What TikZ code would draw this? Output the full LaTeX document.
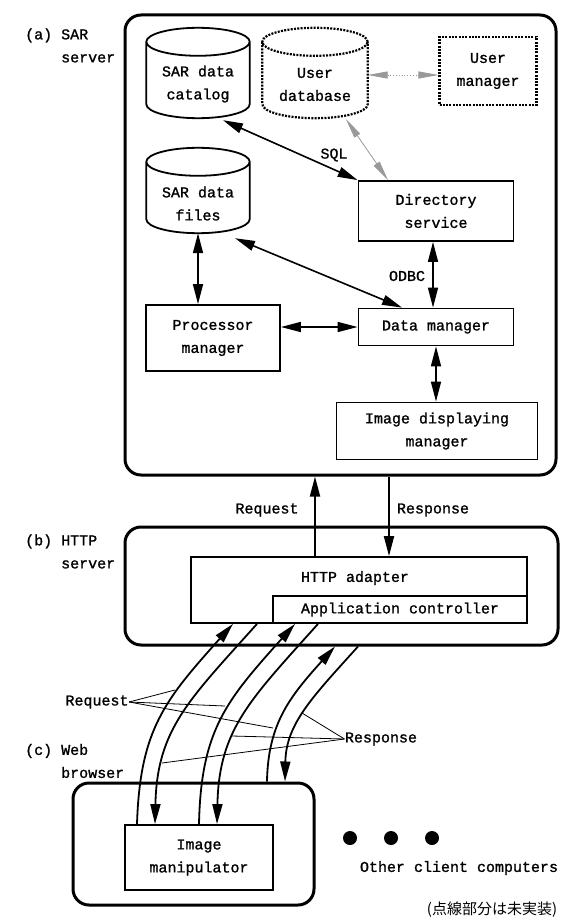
\documentclass[tikz,border=0pt]{standalone}
\usepackage{fontspec}
\setmainfont{Liberation Mono}[FakeBold=1.2]
\newfontfamily\cjk{Noto Sans CJK JP}
\usetikzlibrary{arrows.meta,positioning,shapes.geometric,calc}
\tikzset{
  srvbox/.style={draw, line width=3pt, rounded corners=16pt},
  modbox/.style={draw, line width=1.8pt, align=center, inner sep=0pt},
  drum/.style={align=center, inner sep=0pt, minimum width=103pt, minimum height=90pt},
  todo/.style={line width=2.2pt, dash pattern=on 2pt off 1.3pt},
  dblarr/.style={{Triangle[length=20pt,width=10pt]}-{Triangle[length=20pt,width=10pt]}, line width=1.6pt},
  arr/.style={-{Triangle[length=20pt,width=10pt]}, line width=1.8pt},
  grayarr/.style={{Triangle[length=20pt,width=7pt]}-{Triangle[length=20pt,width=7pt]}, draw=gray!80, line width=0.8pt},
  ptr/.style={line width=0.8pt},
  caption/.style={align=left, inner sep=0pt, anchor=west},
  dot/.style={circle, fill, inner sep=0pt, minimum size=14pt},
}
% cylinder outline round a drum node
\newcommand{\drumshape}[2][]{%
  \draw[line width=1.8pt, #1] let \p1=(#2.west), \p2=(#2.east), \n1={(\x2-\x1)/2} in
    ([yshift=-14pt]#2.north west) -- ([yshift=14pt]#2.south west)
    arc[start angle=180, end angle=360, x radius={\n1*1pt}, y radius=14pt]
    -- ([yshift=-14pt]#2.north east)
    ([yshift=-14pt]#2.north) ellipse[x radius={\n1*1pt}, y radius=14pt];}
\begin{document}
\begin{tikzpicture}[x=1pt, y=-1pt, font=\fontsize{15}{23}\selectfont]
\useasboundingbox (0,0) rectangle (561,917);

% (a) SAR server
\node[srvbox, minimum width=431pt, minimum height=460pt] (sar) at (340.5,245) {};
\node[caption] (sarlbl) at (25,45.5) {(a) SAR\\\hphantom{(a) }server};

\node[drum] (catalog) at (198,73) {};
\drumshape{catalog}
\node[align=center] (cattxt) at (198,84) {SAR data\\catalog};
\node[drum, minimum width=105pt] (userdb) at (315,73) {};
\drumshape[todo]{userdb}
\node[align=center] (dbtxt) at (315,84.5) {User\\database};
\node[modbox, todo, minimum width=97pt, minimum height=68pt] (userman) at (488,71) {User\\manager};
\node[drum, minimum height=85pt] (files) at (198,190.5) {};
\drumshape{files}
\node[align=center] (filestxt) at (198,203.5) {SAR data\\files};
\node[modbox, minimum width=155pt, minimum height=60pt] (dir) at (436,211) {Directory\\service};
\node[modbox, minimum width=134pt, minimum height=66pt] (proc) at (213,338) {Processor\\manager};
\node[modbox, minimum width=155pt, minimum height=37pt] (dm) at (436,327) {Data manager};
\node[modbox, minimum width=201pt, minimum height=57pt] (img) at (437,431) {Image displaying\\manager};

\draw[grayarr, dotted] ([yshift=-2pt]userdb.east) -- ([yshift=-2pt]userman.west |- userdb.east);
\draw[grayarr] ([xshift=31pt,yshift=-1pt]userdb.south) -- ([xshift=-48pt]dir.north);
\draw[dblarr] ([xshift=25pt,yshift=-2pt]catalog.south) -- (dir.north west);
\node (sql) at (334,155) {SQL};
\draw[dblarr] ([xshift=37pt,yshift=-5pt]files.south) -- ([xshift=-34pt]dm.north);
\draw[dblarr] (files.south) -- (files.south |- proc.north);
\draw[dblarr] (proc.east |- dm.west) -- (dm.west);
\draw[dblarr] ([xshift=-3pt]dir.south) -- ([xshift=-3pt]dm.north);
\node (odbc) at (407,276) {ODBC};
\draw[dblarr] (dm.south) -- (dm.south |- img.north);

% (b) HTTP server
\node[srvbox, minimum width=433pt, minimum height=118pt] (http) at (341.5,586) {};
\node[caption] (httplbl) at (25,551.5) {(b) HTTP\\\hphantom{(b) }server};
\node[modbox, minimum width=336pt, minimum height=66pt] (adapter) at (359,590) {};
\node (adtxt) at (355,578) {HTTP adapter};
\node[modbox, minimum width=254pt, minimum height=27pt] (appctl) at (400,609.5) {Application controller};

\draw[arr] ([xshift=-44pt]adapter.north) -- ([xshift=-44pt]adapter.north |- sar.south);
\draw[arr] ([xshift=30pt]adapter.north |- sar.south) -- ([xshift=30pt]adapter.north);
\node (req) at (267,510) {Request};
\node (resp) at (433,510) {Response};

% (c) Web browser
\node[srvbox, minimum width=241pt, minimum height=122pt] (browser) at (193.5,844) {};
\node[caption] (weblbl) at (25,761) {(c) Web\\\hphantom{(c) }browser};
\node[modbox, minimum width=148pt, minimum height=65pt] (manip) at (199,857.5) {Image\\manipulator};

\draw[arr] ([xshift=-62pt]manip.north) .. controls +(3,-95) and +(-68,76) .. ([xshift=-126pt]adapter.south);
\draw[arr] ([xshift=-102pt]adapter.south) .. controls +(-68,76) and +(2,-95) .. ([xshift=-44pt]manip.north);
\draw[arr] (manip.north) .. controls +(2,-95) and +(-68,76) .. ([xshift=-64pt]adapter.south);
\draw[arr] ([xshift=-41pt]adapter.south) .. controls +(-68,76) and +(2,-95) .. ([xshift=18pt]manip.north);
\draw[arr] ([xshift=73.5pt]browser.north) .. controls +(1,-58) and +(-45,50) .. ([xshift=-6.5pt]http.south);
\draw[arr] ([xshift=16.5pt]http.south) .. controls +(-45,50) and +(1,-58) .. ([xshift=91.5pt]browser.north);

\node (req2) at (97,702) {Request};
\node (resp2) at (381,739) {Response};
\coordinate (rq1) at (175,690);
\coordinate (rq2) at (225,706);
\coordinate (rq3) at (273,728);
\coordinate (rs1) at (302,713);
\coordinate (rs2) at (232,736);
\coordinate (rs3) at (162,763);
\foreach \c in {rq1,rq2,rq3} \draw[ptr] ([xshift=-3pt]req2.east) -- (\c);
\foreach \c in {rs1,rs2,rs3} \draw[ptr] ([xshift=3pt]resp2.west) -- (\c);

% other clients
\node[dot] (d1) at (350,838) {};
\node[dot] (d2) at (391,838) {};
\node[dot] (d3) at (432,838) {};
\node (others) at (459,868) {Other client computers};
\node[font=\cjk\fontsize{15}{18}\selectfont] (note) at (492,910) {(点線部分は未実装)};
\end{tikzpicture}
\end{document}
